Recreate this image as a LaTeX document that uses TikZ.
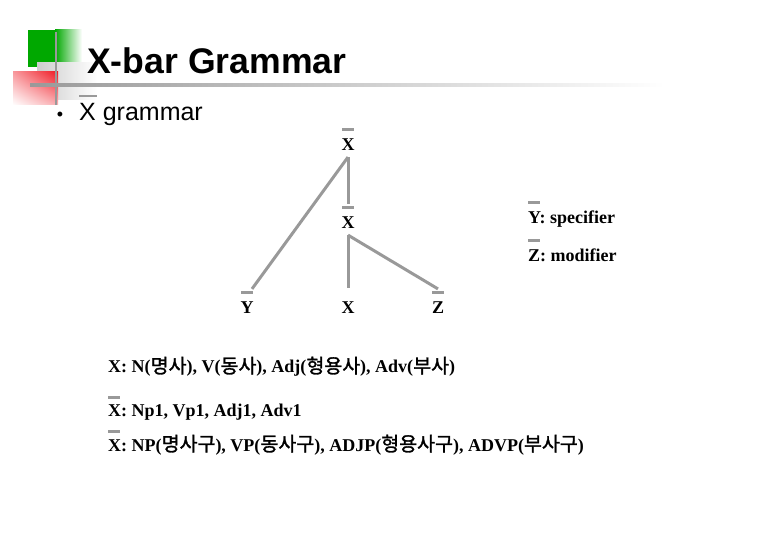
\documentclass[tikz,border=0pt]{standalone}
\usepackage{fontspec}
\setmainfont{Liberation Serif}
\newfontfamily\arialf{Liberation Sans}
\newfontfamily\krf{Noto Sans CJK KR}[AutoFakeBold=1.5]
\newcommand{\kr}[1]{{\krf\fontsize{19.5}{20}\selectfont #1}}
\usetikzlibrary{calc,shadings}
\definecolor{linegray}{RGB}{153,153,153}
\definecolor{logogreen}{RGB}{0,168,0}
\definecolor{logored}{RGB}{240,30,40}
\definecolor{lightgr}{RGB}{205,205,205}
\tikzset{
  treelab/.style={font=\fontsize{18}{20}\selectfont\bfseries, inner sep=0pt},
  textline/.style={font=\fontsize{18}{20}\selectfont\bfseries, inner sep=0pt, anchor=base west},
  branch/.style={draw=linegray, line width=3pt},
  barline/.style={draw=linegray, line width=3pt},
}
\begin{document}
\begin{tikzpicture}[x=1pt,y=-1pt]
\useasboundingbox (0,0) rectangle (780,540);
% logo
\fill[logogreen] (28,30) rectangle (55,67);
\shade[left color=logogreen, right color=white] (55,30) rectangle (82,67);
\shade[left color=lightgr, right color=white] (37,63) rectangle (97,100);
\shade[upper right=logored, upper left=logored!45!white, lower right=logored!35!white, lower left=white] (13,72) rectangle (58,105);
\draw[linegray, line width=2.5pt] (56,32) -- (56,105);
\shade[left color=linegray, right color=white] (30,83.6) rectangle (665,86.4);
% title
\node[font=\arialf\fontsize{35.6}{40}\selectfont\bfseries, inner sep=0pt, anchor=base west] (title) at (87,74) {X-bar Grammar};
\node[font=\arialf\fontsize{18}{20}\selectfont, inner sep=0pt, anchor=base] (bul) at (60,121) {•};
\node[font=\arialf\fontsize{25}{28}\selectfont, inner sep=0pt, anchor=base west] (xg) at (79,121) {X grammar};
\draw[linegray, line width=2.5pt] ($(xg.north west)+(0,-7.5)$) -- ++(18,0);
% tree
\node[treelab] (top) at (348,145) {X};
\node[treelab] (mid) at (348,223) {X};
\node[treelab] (y) at (247,308) {Y};
\node[treelab] (x) at (348,308) {X};
\node[treelab] (z) at (438,308) {Z};
\foreach \n in {top,mid,y,z}
  \draw[barline] ($(\n.north)+(-6,-9)$) -- ++(12,0);
\draw[branch] ($(top.south)+(0,6)$) -- ($(y.north)+(5,-13)$);
\draw[branch] ($(top.south)+(0,6)$) -- ($(mid.north)+(0,-13)$);
\draw[branch] ($(mid.south)+(0,6)$) -- ($(x.north)+(0,-14)$);
\draw[branch] ($(mid.south)+(0,6)$) -- ($(z.north)+(0,-13)$);
% legend
\node[textline] (spec) at (528,224) {Y: specifier};
\node[textline] (modi) at (528,262) {Z: modifier};
\draw[barline] ($(spec.north west)+(0,-9)$) -- ++(12,0);
\draw[barline] ($(modi.north west)+(0,-9)$) -- ++(12,0);
% bottom lines
\node[textline] (l1) at (108,373) {X: N(\kr{명사}), V(\kr{동사}), Adj(\kr{형용사}), Adv(\kr{부사})};
\node[textline] (l2) at (108,416) {X: Np1, Vp1, Adj1, Adv1};
\node[textline] (l3) at (108,451) {X: NP(\kr{명사구}), VP(\kr{동사구}), ADJP(\kr{형용사구}), ADVP(\kr{부사구})};
\draw[barline] ($(l2.base west)+(0,-19)$) -- ++(12,0);
\draw[barline] ($(l3.base west)+(0,-20)$) -- ++(12,0);
\end{tikzpicture}
\end{document}
